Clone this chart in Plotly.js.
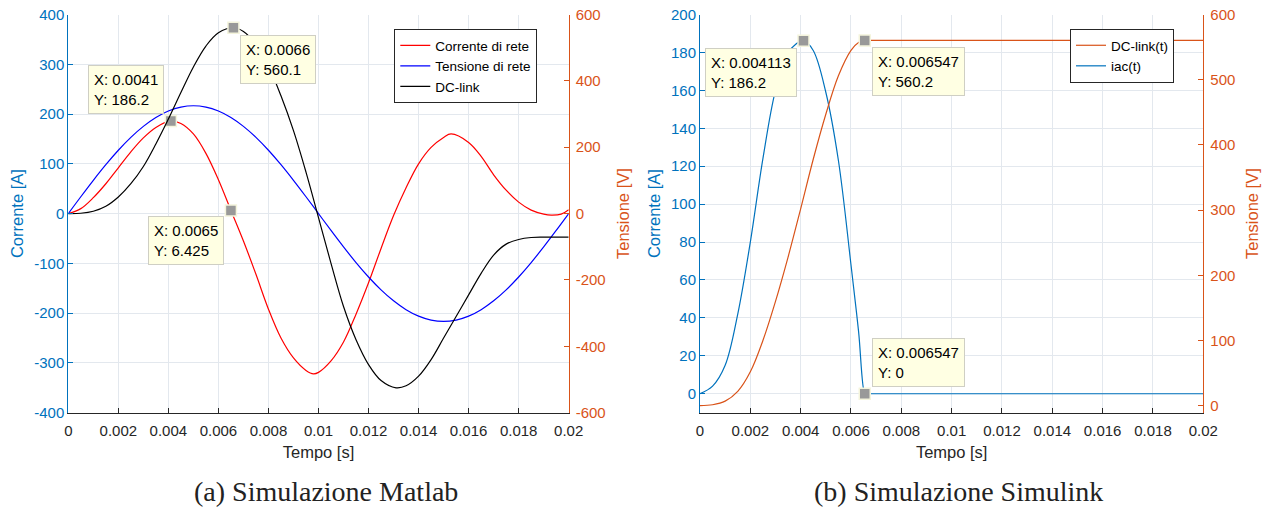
<!DOCTYPE html>
<html><head><meta charset="utf-8">
<script src="https://cdn.plot.ly/plotly-3.0.1.min.js"></script>
<style>html,body{margin:0;padding:0;background:#fff}#chart{width:1268px;height:507px}</style>
</head><body><div id="chart"></div>
<script>
// ---------- (a) Simulazione Matlab ----------
const tTensione = [0,0.0005,0.001,0.0015,0.002,0.0025,0.003,0.0035,0.004,0.0045,0.005,0.0055,0.006,0.0065,0.007,0.0075,0.008,0.0085,0.009,0.0095,0.01,0.0105,0.011,0.0115,0.012,0.0125,0.013,0.0135,0.014,0.0145,0.015,0.0155,0.016,0.0165,0.017,0.0175,0.018,0.0185,0.019,0.0195,0.02];
const tensioneRete = [0,50.8,100.4,147.5,191.0,229.8,262.9,289.6,309.1,321.0,325,321.0,309.1,289.6,262.9,229.8,191.0,147.5,100.4,50.8,0,-50.8,-100.4,-147.5,-191.0,-229.8,-262.9,-289.6,-309.1,-321.0,-325,-321.0,-309.1,-289.6,-262.9,-229.8,-191.0,-147.5,-100.4,-50.8,0];

const tCorrente = [0,0.0005,0.001,0.0015,0.002,0.0025,0.003,0.0035,0.0041,0.0045,0.005,0.0055,0.006,0.0065,0.007,0.0075,0.008,0.0085,0.009,0.0095,0.0098,0.01,0.0105,0.011,0.0115,0.012,0.0125,0.013,0.0135,0.014,0.0145,0.015,0.0153,0.016,0.0165,0.017,0.0175,0.018,0.0185,0.019,0.0193,0.0197,0.02];
const correnteRete = [0,10,32,60,92,124,152,173,186.2,181,160,121,68,6.425,-55,-122,-192,-250,-290,-315,-322,-319,-296,-258,-202,-139,-70,-4,52,100,133,153,160,143,115,78,47,23,7,-1,-3,-1,8];

const tDC = [0,0.0005,0.001,0.0015,0.002,0.0025,0.003,0.0035,0.004,0.0045,0.005,0.0055,0.006,0.0066,0.007,0.0075,0.008,0.0085,0.009,0.0095,0.01,0.0105,0.011,0.0115,0.012,0.0125,0.0131,0.0135,0.014,0.0145,0.015,0.0155,0.016,0.0165,0.017,0.0175,0.018,0.0185,0.019,0.02];
const dcLink = [0,1,7,22,50,90,142,210,285,365,442,505,545,560.1,549,510,445,355,250,125,-12,-150,-280,-380,-455,-503,-525,-519,-490,-440,-375,-310,-245,-180,-125,-92,-78,-72,-71,-71];

// data tips (a)
const tipA_x = [0.0041, 0.0065];      // on Corrente di rete
const tipA_y = [186.2, 6.425];
const tipA2_x = [0.0066];             // on DC-link
const tipA2_y = [560.1];

// ---------- (b) Simulazione Simulink ----------
const tIac = [0,0.0005,0.001,0.0015,0.002,0.0025,0.003,0.0035,0.004113,0.0045,0.005,0.0055,0.006,0.0063,0.006547,0.0066,0.01,0.015,0.02];
const iac = [0,4,15,42,80,124,160,180,186.2,181,159,123,68,33,0,0,0,0,0];

const tDCb = [0,0.0005,0.001,0.0015,0.002,0.0025,0.003,0.0035,0.004,0.0045,0.005,0.0055,0.006,0.0063,0.006547,0.0066,0.01,0.015,0.02];
const dcLinkB = [0,1.5,7,22,52,100,160,228,302,378,447,506,545,557,560.2,560.2,560.2,560.2,560.2];

const tipB_x = [0.004113, 0.006547]; // on iac(t)
const tipB_y = [186.2, 0];
const tipB2_x = [0.006547];          // on DC-link(t)
const tipB2_y = [560.2];

// ---------- ticks ----------
const xTicks = [0,0.002,0.004,0.006,0.008,0.01,0.012,0.014,0.016,0.018,0.02];
const xTickText = ['0','0.002','0.004','0.006','0.008','0.01','0.012','0.014','0.016','0.018','0.02'];
const yA_L = [-400,-300,-200,-100,0,100,200,300,400];
const yA_LText = ['-400','-300','-200','-100','0','100','200','300','400'];
const yA_R = [-600,-400,-200,0,200,400,600];
const yA_RText = ['-600','-400','-200','0','200','400','600'];
const yB_L = [0,20,40,60,80,100,120,140,160,180,200];
const yB_LText = ['0','20','40','60','80','100','120','140','160','180','200'];
const yB_R = [0,100,200,300,400,500,600];
const yB_RText = ['0','100','200','300','400','500','600'];

// ---------- styles ----------
const BLUE = '#0072BD', ORANGE = '#D95319', AXC = '#262626', GRID = '#e3e8ee';
const SANS = '"Liberation Sans", Arial, Helvetica, sans-serif';
const SERIF = '"Liberation Serif", "Times New Roman", serif';
const LW = 1.2;

const tipMarker = {symbol:'square', size:11, color:'#999999', line:{color:'#f4f4dc', width:1.5}};

const traces = [
  {x:tCorrente, y:correnteRete, xaxis:'x', yaxis:'y', type:'scatter', mode:'lines', name:'Corrente di rete',
   line:{color:'#FF0000', width:LW, shape:'spline', smoothing:1}, legend:'legend'},
  {x:tTensione, y:tensioneRete, xaxis:'x', yaxis:'y2', type:'scatter', mode:'lines', name:'Tensione di rete',
   line:{color:'#0000FF', width:LW, shape:'spline', smoothing:1}, legend:'legend'},
  {x:tDC, y:dcLink, xaxis:'x', yaxis:'y2', type:'scatter', mode:'lines', name:'DC-link',
   line:{color:'#000000', width:LW, shape:'spline', smoothing:1}, legend:'legend'},
  {x:tipA_x, y:tipA_y, xaxis:'x', yaxis:'y', type:'scatter', mode:'markers', marker:tipMarker, showlegend:false},
  {x:tipA2_x, y:tipA2_y, xaxis:'x', yaxis:'y2', type:'scatter', mode:'markers', marker:tipMarker, showlegend:false},

  {x:tDCb, y:dcLinkB, xaxis:'x2', yaxis:'y4', type:'scatter', mode:'lines', name:'DC-link(t)',
   line:{color:ORANGE, width:LW, shape:'spline', smoothing:1}, legend:'legend2'},
  {x:tIac, y:iac, xaxis:'x2', yaxis:'y3', type:'scatter', mode:'lines', name:'iac(t)',
   line:{color:BLUE, width:LW, shape:'spline', smoothing:1}, legend:'legend2'},
  {x:tipB_x, y:tipB_y, xaxis:'x2', yaxis:'y3', type:'scatter', mode:'markers', marker:tipMarker, showlegend:false},
  {x:tipB2_x, y:tipB2_y, xaxis:'x2', yaxis:'y4', type:'scatter', mode:'markers', marker:tipMarker, showlegend:false}
];

const W = 1268, H = 507;
const yDom = [1 - 412.7/H, 1 - 14.5/H];

function xAxis(domain, anchor){
  return {domain:domain, anchor:anchor, range:[0,0.02], tickvals:xTicks, ticktext:xTickText,
    ticks:'inside', ticklen:5, tickcolor:AXC, tickwidth:1, showline:true, linecolor:AXC, linewidth:1,
    showgrid:true, gridcolor:GRID, gridwidth:1, zeroline:false, fixedrange:true, ticklabelstandoff:4,
    tickfont:{family:SANS, size:15, color:AXC},
    title:{text:'Tempo [s]', font:{family:SANS, size:16.5, color:AXC}, standoff:8}};
}
function yAxis(opts){
  const c = opts.color;
  const a = {domain:yDom, anchor:opts.anchor, range:opts.range, tickvals:opts.vals, ticktext:opts.text,
    ticks:'inside', ticklen:5, tickcolor:c, tickwidth:1, showline:true, linecolor:c, linewidth:1,
    showgrid:opts.grid, gridcolor:GRID, gridwidth:1, zeroline:false, fixedrange:true, side:opts.side,
    ticklabelstandoff:opts.lstand,
    tickfont:{family:SANS, size:15, color:c},
    title:{text:opts.title, font:{family:SANS, size:16.5, color:c}, standoff:opts.standoff}};
  if (opts.overlaying) a.overlaying = opts.overlaying;
  return a;
}

function tip(xref, yref, x, y, xa, ya, xs, ys){
  return {xref:xref, yref:yref, x:x, y:y, xanchor:xa, yanchor:ya, xshift:xs, yshift:ys,
    text:'X: ' + String(x) + '<br>Y: ' + String(y), showarrow:false, align:'left',
    font:{family:SANS, size:15, color:'#000'}, bgcolor:'#ffffe3', bordercolor:'#cfcfc4', borderwidth:1, borderpad:5};
}

const annotations = [
  tip('x','y', tipA_x[0], tipA_y[0], 'right','bottom', -7, 7),
  tip('x','y', tipA_x[1], tipA_y[1], 'right','top', -7, -6),
  tip('x','y2', tipA2_x[0], tipA2_y[0], 'left','top', 7, -7),
  tip('x2','y3', tipB_x[0], tipB_y[0], 'right','top', -7, -7),
  tip('x2','y3', tipB_x[1], tipB_y[1], 'left','bottom', 7, 7),
  tip('x2','y4', tipB2_x[0], tipB2_y[0], 'left','top', 7, -7),
  {xref:'paper', yref:'paper', x:326/W, y:1-491/H, xanchor:'center', yanchor:'middle', showarrow:false,
   text:'(a) Simulazione Matlab', font:{family:SERIF, size:28, color:'#222'}},
  {xref:'paper', yref:'paper', x:958/W, y:1-491/H, xanchor:'center', yanchor:'middle', showarrow:false,
   text:'(b) Simulazione Simulink', font:{family:SERIF, size:28, color:'#222'}}
];

const legendBase = {xanchor:'left', yanchor:'top', bgcolor:'#ffffff', bordercolor:AXC, borderwidth:1,
  font:{family:SANS, size:13.5, color:'#000'}, tracegroupgap:0, itemwidth:30};

const layout = {
  width:W, height:H, margin:{l:0, r:0, t:0, b:0}, paper_bgcolor:'#ffffff', plot_bgcolor:'#ffffff',
  font:{family:SANS, size:15, color:AXC}, hovermode:false, showlegend:true,
  xaxis: xAxis([68.3/W, 568.7/W], 'y'),
  yaxis: yAxis({anchor:'x', range:[-400,400], vals:yA_L, text:yA_LText, color:BLUE, grid:true, side:'left', title:'Corrente [A]', standoff:6, lstand:0}),
  yaxis2: yAxis({anchor:'x', range:[-600,600], vals:yA_R, text:yA_RText, color:ORANGE, grid:false, side:'right', title:'Tensione [V]', standoff:12, lstand:3, overlaying:'y'}),
  xaxis2: xAxis([700/W, 1203.3/W], 'y3'),
  yaxis3: yAxis({anchor:'x2', range:[-10,200], vals:yB_L, text:yB_LText, color:BLUE, grid:true, side:'left', title:'Corrente [A]', standoff:6, lstand:0}),
  yaxis4: yAxis({anchor:'x2', range:[-10.7,600], vals:yB_R, text:yB_RText, color:ORANGE, grid:false, side:'right', title:'Tensione [V]', standoff:12, lstand:3, overlaying:'y3'}),
  legend: Object.assign({x:394.3/W, y:1-29/H}, legendBase),
  legend2: Object.assign({x:1070/W, y:1-29/H}, legendBase),
  annotations: annotations
};

Plotly.newPlot('chart', traces, layout, {staticPlot:true, displayModeBar:false});
</script></body></html>
